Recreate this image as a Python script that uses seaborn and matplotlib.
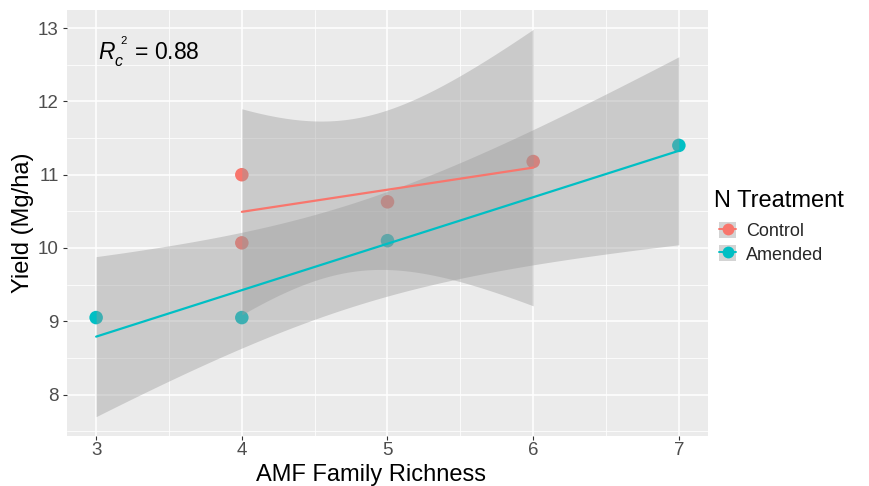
import numpy as np
import pandas as pd
import matplotlib
matplotlib.use("Agg")
import matplotlib.pyplot as plt
from matplotlib.patches import Patch
from matplotlib.lines import Line2D
from matplotlib.legend_handler import HandlerTuple
import seaborn as sns

# Data
treatment = ["Control", "Control", "Control", "Control",
             "Amended", "Amended", "Amended", "Amended"]
richness = [4, 4, 5, 6, 3, 4, 5, 7]
yield_mg_ha = [11.00, 10.07, 10.63, 11.18, 9.05, 9.05, 10.10, 11.40]
groups = ["Control", "Amended"]
palette = {"Control": "#F8766D", "Amended": "#00BFC4"}
r2_label = "0.88"

df = pd.DataFrame({"N Treatment": treatment,
                   "AMF Family Richness": richness,
                   "Yield (Mg/ha)": yield_mg_ha})

sns.set_theme(style="darkgrid")
plt.rcParams["font.family"] = ["Liberation Sans", "DejaVu Sans"]
plt.rcParams["mathtext.fontset"] = "custom"
plt.rcParams["mathtext.rm"] = "Liberation Sans"
plt.rcParams["mathtext.it"] = "Liberation Sans:italic"

fig = plt.figure(figsize=(8.7, 4.86), dpi=100)
ax = fig.add_axes([67 / 870, 1 - 436 / 486, 641 / 870, 426 / 486])
ax.set_facecolor("#EBEBEB")


def ols_band(x, y, xs):
    """Least-squares fit with a 95% confidence band (t, df = n - 2)."""
    x = np.asarray(x, float)
    y = np.asarray(y, float)
    n = len(x)
    b, a = np.polyfit(x, y, 1)
    resid = y - (a + b * x)
    s = np.sqrt(np.sum(resid ** 2) / (n - 2))
    sxx = np.sum((x - x.mean()) ** 2)
    # two-sided 97.5% quantile of Student t with 2 df (closed form)
    p = 0.975
    t = (2 * p - 1) / np.sqrt(2 * p * (1 - p))
    fit = a + b * xs
    se = s * np.sqrt(1 / n + (xs - x.mean()) ** 2 / sxx)
    return fit, fit - t * se, fit + t * se


# points first, confidence ribbons above them, fitted lines on top
sns.scatterplot(data=df, x="AMF Family Richness", y="Yield (Mg/ha)",
                hue="N Treatment", palette=palette, hue_order=groups,
                s=95, linewidth=0, ax=ax, zorder=3, legend=False)

lows, highs = [], []
for g in groups:
    sub = df[df["N Treatment"] == g]
    xs = np.linspace(sub["AMF Family Richness"].min(),
                     sub["AMF Family Richness"].max(), 80)
    fit, lo, hi = ols_band(sub["AMF Family Richness"], sub["Yield (Mg/ha)"], xs)
    lows.append(lo.min())
    highs.append(hi.max())
    ax.fill_between(xs, lo, hi, color="#999999", alpha=0.4, linewidth=0, zorder=4)
    sns.regplot(data=sub, x="AMF Family Richness", y="Yield (Mg/ha)",
                scatter=False, ci=None, color=palette[g],
                line_kws={"linewidth": 1.6, "zorder": 5}, ax=ax)

xmin, xmax = min(richness), max(richness)
ymin, ymax = min(lows), max(highs)
ax.set_xlim(xmin - 0.05 * (xmax - xmin), xmax + 0.05 * (xmax - xmin))
ax.set_ylim(ymin - 0.05 * (ymax - ymin), ymax + 0.05 * (ymax - ymin))

ax.set_xticks([3, 4, 5, 6, 7])
ax.set_xticks([3.5, 4.5, 5.5, 6.5], minor=True)
ax.set_yticks([8, 9, 10, 11, 12, 13])
ax.set_yticks([7.5, 8.5, 9.5, 10.5, 11.5, 12.5], minor=True)
ax.grid(which="major", color="white", linewidth=1.1)
ax.grid(which="minor", color="white", linewidth=0.55)
ax.set_axisbelow(True)
for sp in ax.spines.values():
    sp.set_visible(False)

ax.tick_params(axis="both", which="major", length=3, width=0.8, color="#333333",
               labelsize=13.5, labelcolor="#4D4D4D", pad=3,
               bottom=True, left=True)
ax.tick_params(axis="x", which="major", pad=1.5)
ax.tick_params(axis="both", which="minor", length=0)

ax.set_xlabel("AMF Family Richness", fontsize=17, color="black")
ax.set_ylabel("Yield (Mg/ha)", fontsize=17, color="black")
ax.xaxis.set_label_coords(0.474, -0.065)
ax.yaxis.set_label_coords(-0.052, 0.5)

ax.text(3.015, 12.56, r"$R_c^{\ {}^{2}}$ = " + r2_label, fontsize=16.5,
        ha="left", va="baseline", color="black", zorder=6)

# legend: title plus ribbon-coloured keys with point and line
fig.text(714 / 870, 1 - 207 / 486, "N Treatment", fontsize=17,
         ha="left", va="baseline", color="black")
handles = []
for g in groups:
    bg = Patch(facecolor="#D4D4D4", edgecolor="none")
    mk = Line2D([], [], color=palette[g], marker="o", markersize=8.5,
                linewidth=1.4, markeredgewidth=0)
    handles.append((bg, mk))
leg = fig.legend(handles, groups,
                 handler_map={tuple: HandlerTuple(ndivide=1, pad=0)},
                 loc="upper left", bbox_to_anchor=(719 / 870, 1 - 222 / 486),
                 frameon=False, fontsize=13,
                 handlelength=0.95, handleheight=1.0, handletextpad=0.55,
                 labelspacing=0.28, borderaxespad=0, borderpad=0.0)

fig.savefig("out.png", dpi=100)
